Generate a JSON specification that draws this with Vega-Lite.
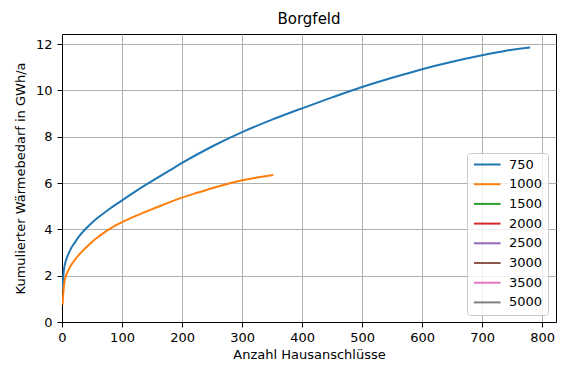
{
  "$schema": "https://vega.github.io/schema/vega-lite/v6.json",
  "width": 494,
  "height": 288,
  "autosize": {"type": "none"},
  "padding": {"left": 62, "top": 34, "right": 11, "bottom": 57},
  "background": "white",
  "title": {"text": "Borgfeld", "font": "DejaVu Sans", "fontSize": 15, "fontWeight": "normal", "color": "black", "offset": 7},
  "config": {
    "view": {"stroke": "black", "strokeWidth": 1},
    "axis": {
      "domainColor": "black", "domainWidth": 1,
      "tickColor": "black", "tickSize": 5, "tickWidth": 1,
      "labelFont": "DejaVu Sans", "labelFontSize": 13, "labelColor": "black",
      "titleFont": "DejaVu Sans", "titleFontSize": 13, "titleFontWeight": "normal", "titleColor": "black",
      "gridColor": "#b0b0b0", "gridWidth": 1, "gridOpacity": 1
    }
  },
  "data": {"values": [
    {"series": "750", "n": 1, "q": 1.4},
    {"series": "750", "n": 2, "q": 1.9},
    {"series": "750", "n": 4, "q": 2.39},
    {"series": "750", "n": 6, "q": 2.6},
    {"series": "750", "n": 10, "q": 2.9},
    {"series": "750", "n": 15, "q": 3.18},
    {"series": "750", "n": 21, "q": 3.42},
    {"series": "750", "n": 30, "q": 3.75},
    {"series": "750", "n": 40, "q": 4.04},
    {"series": "750", "n": 50, "q": 4.29},
    {"series": "750", "n": 60, "q": 4.51},
    {"series": "750", "n": 70, "q": 4.71},
    {"series": "750", "n": 80, "q": 4.9},
    {"series": "750", "n": 90, "q": 5.08},
    {"series": "750", "n": 100, "q": 5.25},
    {"series": "750", "n": 120, "q": 5.6},
    {"series": "750", "n": 140, "q": 5.93},
    {"series": "750", "n": 160, "q": 6.25},
    {"series": "750", "n": 180, "q": 6.56},
    {"series": "750", "n": 200, "q": 6.87},
    {"series": "750", "n": 250, "q": 7.58},
    {"series": "750", "n": 300, "q": 8.2},
    {"series": "750", "n": 350, "q": 8.74},
    {"series": "750", "n": 400, "q": 9.23},
    {"series": "750", "n": 450, "q": 9.7},
    {"series": "750", "n": 500, "q": 10.15},
    {"series": "750", "n": 550, "q": 10.55},
    {"series": "750", "n": 600, "q": 10.92},
    {"series": "750", "n": 650, "q": 11.24},
    {"series": "750", "n": 700, "q": 11.52},
    {"series": "750", "n": 740, "q": 11.72},
    {"series": "750", "n": 780, "q": 11.86},
    {"series": "1000", "n": 1, "q": 0.75},
    {"series": "1000", "n": 2, "q": 1.2},
    {"series": "1000", "n": 4, "q": 1.72},
    {"series": "1000", "n": 6, "q": 1.95},
    {"series": "1000", "n": 10, "q": 2.2},
    {"series": "1000", "n": 15, "q": 2.45},
    {"series": "1000", "n": 21, "q": 2.67},
    {"series": "1000", "n": 30, "q": 2.95},
    {"series": "1000", "n": 40, "q": 3.22},
    {"series": "1000", "n": 50, "q": 3.46},
    {"series": "1000", "n": 60, "q": 3.67},
    {"series": "1000", "n": 70, "q": 3.86},
    {"series": "1000", "n": 80, "q": 4.03},
    {"series": "1000", "n": 90, "q": 4.18},
    {"series": "1000", "n": 100, "q": 4.31},
    {"series": "1000", "n": 120, "q": 4.55},
    {"series": "1000", "n": 140, "q": 4.77},
    {"series": "1000", "n": 160, "q": 4.98},
    {"series": "1000", "n": 180, "q": 5.18},
    {"series": "1000", "n": 200, "q": 5.37},
    {"series": "1000", "n": 225, "q": 5.58},
    {"series": "1000", "n": 250, "q": 5.78},
    {"series": "1000", "n": 275, "q": 5.96},
    {"series": "1000", "n": 300, "q": 6.12},
    {"series": "1000", "n": 325, "q": 6.24},
    {"series": "1000", "n": 352, "q": 6.35}
  ]},
  "mark": {"type": "line", "strokeWidth": 2, "clip": true, "interpolate": "monotone"},
  "encoding": {
    "x": {"field": "n", "type": "quantitative", "title": "Anzahl Hausanschlüsse",
      "scale": {"domain": [0, 823], "nice": false, "zero": false},
      "axis": {"values": [0, 100, 200, 300, 400, 500, 600, 700, 800], "labelPadding": 4, "titlePadding": 4, "labelFlush": false}},
    "y": {"field": "q", "type": "quantitative", "title": "Kumulierter Wärmebedarf in GWh/a",
      "scale": {"domain": [0, 12.44], "nice": false, "zero": false},
      "axis": {"values": [0, 2, 4, 6, 8, 10, 12], "labelPadding": 5, "titlePadding": 8, "labelFlush": false}},
    "color": {"field": "series", "type": "nominal",
      "scale": {"domain": ["750", "1000", "1500", "2000", "2500", "3000", "3500", "5000"],
        "range": ["#1f77b4", "#ff7f0e", "#2ca02c", "#d62728", "#9467bd", "#8c564b", "#e377c2", "#7f7f7f"]},
      "legend": {"title": null, "orient": "none", "legendX": 405, "legendY": 119,
        "symbolType": "M-1.3,0H6.3", "symbolSize": 49, "symbolStrokeWidth": 2,
        "labelFont": "DejaVu Sans", "labelFontSize": 13, "labelColor": "black", "labelOffset": 24,
        "padding": 5, "rowPadding": 5.7, "strokeColor": "#cccccc", "fillColor": "rgba(255,255,255,0.8)", "cornerRadius": 3}}
  }
}
